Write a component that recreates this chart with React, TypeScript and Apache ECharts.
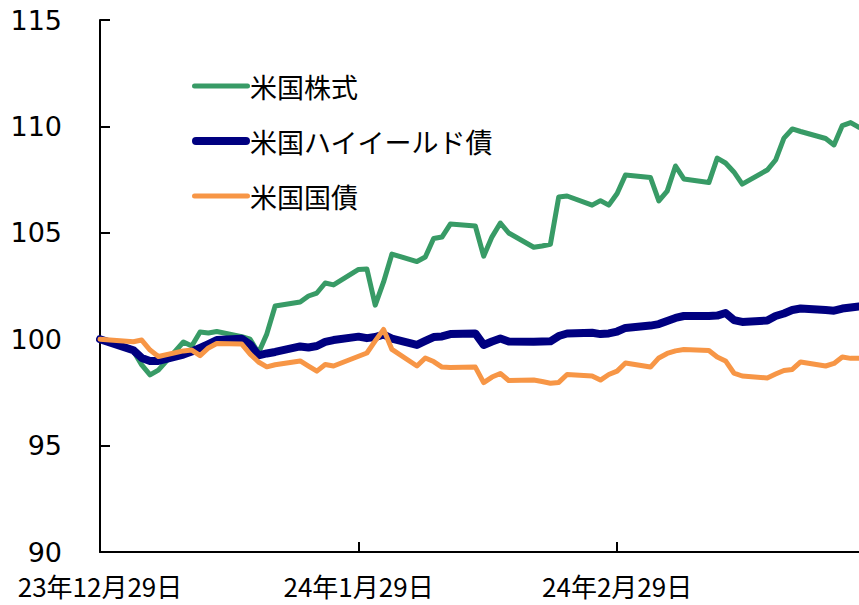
import React, { useEffect, useRef } from "react";
import * as echarts from "echarts";

// Weekday observations, 2023-12-29 .. 2024-03-29 (index, 2023-12-29 = 100)
const dates = [
  "2023-12-29",
  "2024-01-02", "2024-01-03", "2024-01-04", "2024-01-05",
  "2024-01-08", "2024-01-09", "2024-01-10", "2024-01-11", "2024-01-12",
  "2024-01-15", "2024-01-16", "2024-01-17", "2024-01-18", "2024-01-19",
  "2024-01-22", "2024-01-23", "2024-01-24", "2024-01-25", "2024-01-26",
  "2024-01-29", "2024-01-30", "2024-01-31", "2024-02-01", "2024-02-02",
  "2024-02-05", "2024-02-06", "2024-02-07", "2024-02-08", "2024-02-09",
  "2024-02-12", "2024-02-13", "2024-02-14", "2024-02-15", "2024-02-16",
  "2024-02-19", "2024-02-20", "2024-02-21", "2024-02-22", "2024-02-23",
  "2024-02-26", "2024-02-27", "2024-02-28", "2024-02-29", "2024-03-01",
  "2024-03-04", "2024-03-05", "2024-03-06", "2024-03-07", "2024-03-08",
  "2024-03-11", "2024-03-12", "2024-03-13", "2024-03-14", "2024-03-15",
  "2024-03-18", "2024-03-19", "2024-03-20", "2024-03-21", "2024-03-22",
  "2024-03-25", "2024-03-26", "2024-03-27", "2024-03-28", "2024-03-29",
];

const usStocks = [
  100.0,
  99.45, 98.79, 98.32, 98.55,
  99.87, 99.68, 100.34, 100.29, 100.36,
  100.12, 100.0, 99.35, 100.25, 101.56,
  101.75, 102.03, 102.17, 102.64, 102.55,
  103.28, 103.3, 101.6, 102.69, 104.0,
  103.65, 103.86, 104.73, 104.8, 105.41,
  105.32, 103.9, 104.81, 105.46, 104.99,
  104.32, 104.38, 104.46, 106.68, 106.73,
  106.3, 106.51, 106.3, 106.85, 107.72,
  107.6, 106.5, 106.96, 108.14, 107.53,
  107.36, 108.51, 108.28, 107.86, 107.29,
  107.95, 108.42, 109.45, 109.88, 109.76,
  109.43, 109.13, 110.04, 110.18, 109.95,
];

const usHighYield = [
  100.0,
  99.48, 99.12, 98.98, 98.98,
  99.28, 99.42, 99.59, 99.77, 99.96,
  100.02, 99.75, 99.24, 99.33, 99.4,
  99.66, 99.61, 99.68, 99.87, 99.96,
  100.12, 100.05, 100.1, 100.22, 100.03,
  99.73, 99.92, 100.1, 100.13, 100.24,
  100.27, 99.73, 99.89, 100.03, 99.89,
  99.88, 99.89, 99.9, 100.15, 100.27,
  100.3, 100.24, 100.27, 100.36, 100.53,
  100.64, 100.71, 100.86, 101.0, 101.09,
  101.09, 101.11, 101.23, 100.9, 100.81,
  100.88, 101.09, 101.21, 101.37, 101.44,
  101.37, 101.34, 101.44, 101.49, 101.54,
];

const usTreasury = [
  100.0,
  99.88, 99.96, 99.49, 99.19,
  99.45, 99.49, 99.23, 99.59, 99.8,
  99.77, 99.3, 98.93, 98.7, 98.8,
  98.98, 98.74, 98.5, 98.81, 98.74,
  99.2, 99.35, 99.92, 100.46, 99.52,
  98.74, 99.12, 98.95, 98.69, 98.67,
  98.69, 97.96, 98.22, 98.39, 98.06,
  98.08, 98.01, 97.93, 97.97, 98.34,
  98.27, 98.08, 98.34, 98.5, 98.88,
  98.69, 99.12, 99.33, 99.45, 99.52,
  99.47, 99.16, 98.98, 98.41, 98.27,
  98.18, 98.36, 98.53, 98.58, 98.93,
  98.74, 98.86, 99.16, 99.1, 99.1,
];

const seriesNames = ["米国株式", "米国ハイイールド債", "米国国債"];
const seriesValues = [usStocks, usHighYield, usTreasury];
const seriesColors = ["#389b66", "#000080", "#f79646"];
const seriesWidths = [5, 8, 5];

const startDate = "2023-12-29";
const endDate = "2024-03-29";

const toUTC = (s: string) => {
  const [y, m, d] = s.split("-").map(Number);
  return Date.UTC(y, m - 1, d);
};
const BASE = toUTC(startDate);
const DAY = 86400000;
const dayOffset = (s: string) => Math.round((toUTC(s) - BASE) / DAY);
const offsetLabel = (v: number) => {
  const dt = new Date(BASE + v * DAY);
  return `${String(dt.getUTCFullYear()).slice(2)}年${dt.getUTCMonth() + 1}月${dt.getUTCDate()}日`;
};

// rounded bar icon, 58 wide and w tall (kept aspect inside the legend box)
const barIcon = (w: number) => {
  const r = w / 2;
  const L = 58;
  return `path://M${r},0 H${L - r} A${r},${r} 0 0 1 ${L - r},${w} H${r} A${r},${r} 0 0 1 ${r},0 Z`;
};

export default function App() {
  const ref = useRef<HTMLDivElement>(null);

  useEffect(() => {
    if (!ref.current) return;
    const chart = echarts.init(ref.current, undefined, { renderer: "svg" });
    const series = seriesNames.map((name, k) => ({
      name,
      type: "line",
      symbol: "none",
      data: dates.map((d, i) => [dayOffset(d), seriesValues[k][i]]),
      lineStyle: {
        color: seriesColors[k],
        width: seriesWidths[k],
        cap: "round",
        join: "round",
      },
      itemStyle: { color: seriesColors[k] },
      z: 2 + k,
    }));

    chart.setOption({
      animation: false,
      backgroundColor: "#ffffff",
      grid: { left: 100, right: 0, top: 20, bottom: 53, containLabel: false },
      legend: {
        orient: "vertical",
        left: 187,
        top: 66,
        itemWidth: 58,
        itemHeight: 30,
        itemGap: 25,
        symbolKeepAspect: true,
        data: seriesNames.map((name, k) => ({
          name,
          icon: barIcon(seriesWidths[k]),
          itemStyle: { color: seriesColors[k] },
        })),
        textStyle: {
          fontSize: 27,
          fontFamily: '"Noto Sans CJK JP", sans-serif',
          color: "#000",
          lineHeight: 30,
          padding: [0, 0, 0, -5],
        },
      },
      xAxis: {
        type: "value",
        min: 0,
        max: dayOffset(endDate),
        interval: 31,
        axisLine: { show: true, lineStyle: { color: "#000", width: 2 } },
        axisTick: { show: true, inside: true, length: 10, lineStyle: { color: "#000", width: 2 } },
        splitLine: { show: false },
        axisLabel: {
          showMaxLabel: false,
          margin: 20,
          fontSize: 26,
          fontFamily: '"Noto Sans CJK JP", sans-serif',
          color: "#000",
          formatter: (v: number) => offsetLabel(v),
        },
      },
      yAxis: {
        type: "value",
        min: 90,
        max: 115,
        interval: 5,
        axisLine: { show: true, lineStyle: { color: "#000", width: 2 } },
        axisTick: { show: true, inside: true, length: 10, lineStyle: { color: "#000", width: 2 } },
        splitLine: { show: false },
        axisLabel: {
          margin: 38,
          fontSize: 27,
          fontFamily: '"DejaVu Sans", Verdana, sans-serif',
          color: "#000",
        },
      },
      series,
    });

    return () => chart.dispose();
  }, []);

  return (
    <div
      ref={ref}
      style={{ position: "fixed", left: 0, top: 0, width: 859, height: 605, background: "#fff" }}
    />
  );
}
